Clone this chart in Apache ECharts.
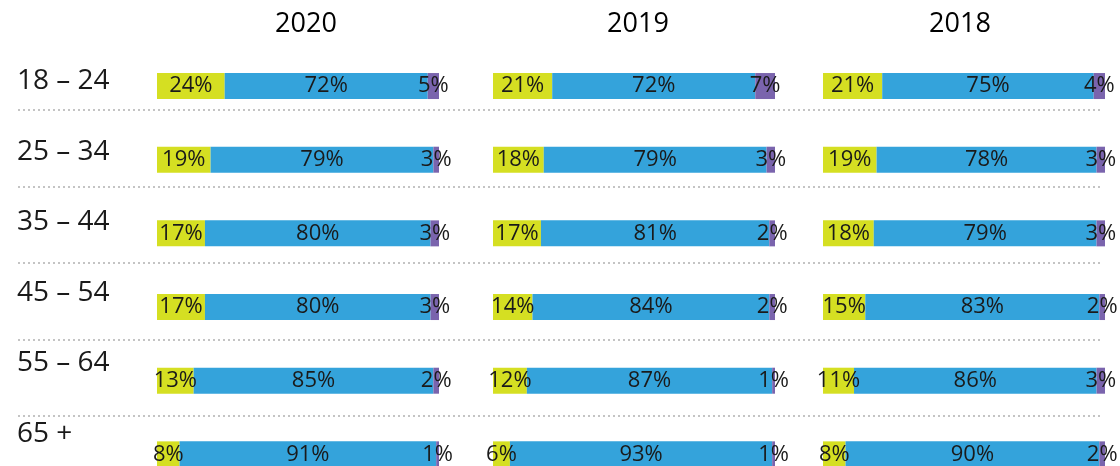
<!DOCTYPE html>
<html>
<head>
<meta charset="utf-8">
<script src="https://cdn.jsdelivr.net/npm/echarts@6/dist/echarts.min.js"></script>
<style>
  html, body { margin: 0; padding: 0; background: #fff; }
  #chart { width: 1120px; height: 466px; }
</style>
</head>
<body>
<div id="chart"></div>
<script>
const ageGroups = ['18 – 24', '25 – 34', '35 – 44', '45 – 54', '55 – 64', '65 +']
const years = ['2020', '2019', '2018']

// share per age group, one array per year and segment
const low2020 = [24, 19, 17, 17, 13, 8]
const mid2020 = [72, 79, 80, 80, 85, 91]
const high2020 = [5, 3, 3, 3, 2, 1]

const low2019 = [21, 18, 17, 14, 12, 6]
const mid2019 = [72, 79, 81, 84, 87, 93]
const high2019 = [7, 3, 2, 2, 1, 1]

const low2018 = [21, 19, 18, 15, 11, 8]
const mid2018 = [75, 78, 79, 83, 86, 90]
const high2018 = [4, 3, 3, 2, 3, 2]

const panels = [
  { low: low2020, mid: mid2020, high: high2020 },
  { low: low2019, mid: mid2019, high: high2019 },
  { low: low2018, mid: mid2018, high: high2018 }
]

const colors = ['#d5df22', '#34a3db', '#7a64ad']
const panelLeft = [157, 493, 823]
const panelWidth = 282
const titleX = [301, 633, 955]
const font = '"Open Sans", "Noto Sans", sans-serif'

const chart = echarts.init(document.getElementById('chart'))

const grid = []
const xAxis = []
const yAxis = []
const series = []

panels.forEach((p, i) => {
  grid.push({ left: panelLeft[i], width: panelWidth, top: 49.2, height: 442, outerBoundsMode: 'none' })
  xAxis.push({ gridIndex: i, type: 'value', min: 0, max: 100, show: false })
  yAxis.push({ gridIndex: i, type: 'category', inverse: true, data: ageGroups, show: false })
  const segs = [p.low, p.mid, p.high]
  segs.forEach((vals, k) => {
    series.push({
      type: 'bar',
      xAxisIndex: i,
      yAxisIndex: i,
      stack: 'p' + i,
      barWidth: 26,
      data: vals,
      itemStyle: { color: colors[k] },
      label: {
        show: true,
        position: 'inside',
        formatter: '{c}%',
        color: '#1a1a1a',
        fontFamily: font,
        fontSize: 22
      }
    })
  })
})

// dotted row separators across the whole width
grid.push({ left: 18, width: 1082, top: 110, height: 382.5, outerBoundsMode: 'none' })
xAxis.push({ gridIndex: 3, type: 'value', min: 0, max: 1, show: false })
yAxis.push({
  gridIndex: 3, type: 'value', min: 0, max: 5, interval: 1,
  axisLine: { show: false }, axisTick: { show: false }, axisLabel: { show: false },
  splitLine: { show: true, lineStyle: { type: [2, 3], color: '#c4c4c4', width: 2 } }
})

// age group labels on the left
grid.push({ left: 17, width: 10, top: 46, height: 422.8, outerBoundsMode: 'none' })
xAxis.push({ gridIndex: 4, type: 'value', min: 0, max: 1, show: false })
yAxis.push({
  gridIndex: 4, type: 'category', inverse: true, data: ageGroups,
  axisLine: { show: false }, axisTick: { show: false }, splitLine: { show: false },
  axisLabel: {
    inside: true, margin: 0, color: '#1a1a1a', fontFamily: font, fontSize: 28
  }
})

const option = {
  animation: false,
  title: years.map((y, i) => ({
    text: y,
    left: titleX[i],
    top: 6,
    textAlign: 'center',
    textStyle: { fontFamily: font, fontSize: 27, fontWeight: 'normal', color: '#000' }
  })),
  grid: grid,
  xAxis: xAxis,
  yAxis: yAxis,
  series: series
}

chart.setOption(option)
</script>
</body>
</html>
